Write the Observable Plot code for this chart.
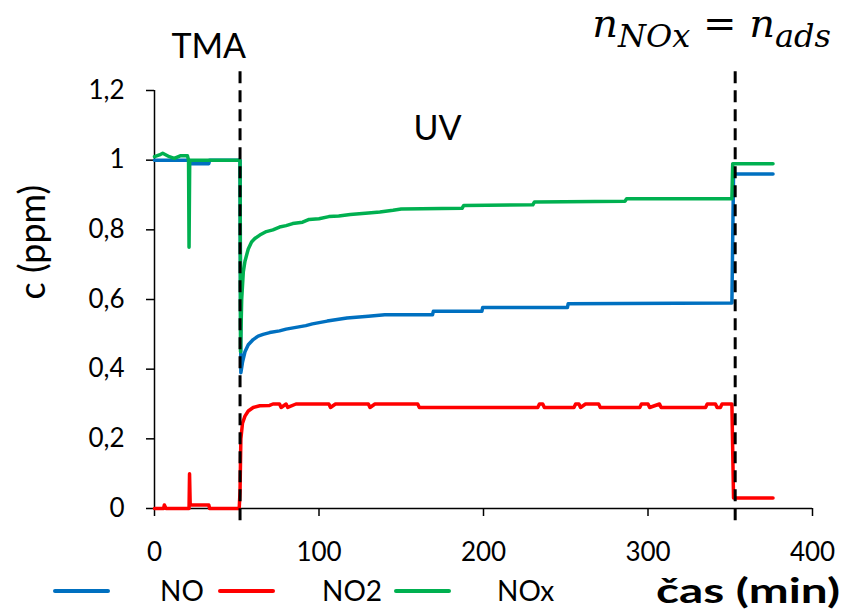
<!DOCTYPE html>
<html><head><meta charset="utf-8">
<script src="https://cdn.jsdelivr.net/npm/d3@7"></script>
<script src="https://cdn.jsdelivr.net/npm/@observablehq/plot@0.6"></script>
<style>body{margin:0;background:#fff;} svg{display:block}</style>
</head><body><div id="chart"></div>
<script>
const seriesNames = ["NO", "NO2", "NOx"];
const seriesColors = ["#0070C0", "#FF0000", "#00B050"];

const noTime  = [0, 21, 21.5, 33, 33.5, 52, 52.5, 53.5, 55, 57, 60, 63, 66, 70, 76, 80, 86, 92, 96, 105, 117, 130, 140, 169, 169.5, 199, 199.5, 251, 251.5, 351, 352, 376];
const noValue = [1.0, 1.0, 0.99, 0.99, 1.0, 1.0, 0.39, 0.42, 0.45, 0.47, 0.485, 0.495, 0.50, 0.505, 0.51, 0.515, 0.52, 0.525, 0.53, 0.538, 0.547, 0.552, 0.556, 0.556, 0.566, 0.566, 0.577, 0.577, 0.588, 0.59, 0.96, 0.96];

const no2Time  = [0, 5.5, 6, 7, 21, 21.3, 21.7, 33, 33.5, 51.5, 52, 52.5, 53.5, 55, 57, 60, 64, 70, 72, 76, 77, 80, 81, 86, 87, 106, 107, 110, 111, 130, 131, 134, 135, 160, 161, 233, 234, 236, 237, 255, 256, 258, 259, 262, 263, 270, 271, 295, 296, 300, 301, 307, 308, 335, 336, 341, 342, 344, 345, 351, 352, 376];
const no2Value = [0, 0, 0.01, 0, 0, 0.1, 0.01, 0.01, 0, 0, 0.05, 0.2, 0.245, 0.265, 0.28, 0.29, 0.295, 0.296, 0.3, 0.3, 0.29, 0.3, 0.29, 0.3, 0.3, 0.3, 0.29, 0.3, 0.3, 0.3, 0.29, 0.3, 0.3, 0.3, 0.29, 0.29, 0.3, 0.3, 0.29, 0.29, 0.3, 0.3, 0.29, 0.3, 0.3, 0.3, 0.29, 0.29, 0.3, 0.3, 0.29, 0.3, 0.29, 0.29, 0.3, 0.3, 0.29, 0.29, 0.3, 0.3, 0.03, 0.03];

const noxTime  = [0, 3, 5, 9, 12, 16, 20, 20.7, 21, 21.4, 52, 52.3, 53, 54, 55, 57, 59, 61, 64, 68, 72, 76, 80, 84, 90, 94, 100, 106, 112, 119, 130, 137, 145, 150, 187, 188, 230, 231, 286, 287, 351, 351.5, 376];
const noxValue = [1.01, 1.015, 1.02, 1.01, 1.005, 1.013, 1.013, 1.0, 0.75, 1.0, 1.0, 0.45, 0.6, 0.68, 0.71, 0.745, 0.765, 0.775, 0.785, 0.795, 0.80, 0.808, 0.812, 0.818, 0.822, 0.83, 0.832, 0.838, 0.84, 0.844, 0.848, 0.851, 0.856, 0.86, 0.862, 0.87, 0.872, 0.88, 0.882, 0.889, 0.889, 0.99, 0.99];

const xTicks = [0, 100, 200, 300, 400];
const yTicks = [0, 0.2, 0.4, 0.6, 0.8, 1, 1.2];
const eventTimes = [52, 353];
const notes = [{t: 33, c: 1.325, label: "TMA"}, {t: 172, c: 1.09, label: "UV"}];

const rows = [];
[[noTime, noValue], [no2Time, no2Value], [noxTime, noxValue]].forEach(([ts, vs], i) => {
  ts.forEach((t, j) => rows.push({series: seriesNames[i], t, c: vs[j]}));
});

const fmt = d => String(d).replace(".", ",");
const font = "Lato, 'Open Sans', sans-serif";

const plot = Plot.plot({
  width: 844, height: 614,
  marginLeft: 154, marginRight: 32, marginTop: 90, marginBottom: 106,
  style: {fontFamily: font, color: "#000", background: "#fff", overflow: "visible"},
  x: {domain: [0, 400]},
  y: {domain: [0, 1.2]},
  color: {domain: seriesNames, range: seriesColors},
  marks: [
    Plot.axisX({ticks: xTicks, tickSize: 8, tickPadding: 26, fontSize: 26, tickFormat: fmt, label: null, strokeWidth: 1.5}),
    Plot.axisY({ticks: yTicks, tickSize: 8, tickPadding: 22, fontSize: 26, tickFormat: fmt, label: null, strokeWidth: 1.5}),
    Plot.ruleX([0], {stroke: "#000", strokeWidth: 1.5}),
    Plot.ruleY([0], {stroke: "#000", strokeWidth: 1.5}),
    Plot.line(rows, {x: "t", y: "c", z: "series", stroke: "series", strokeWidth: 3.5, strokeLinejoin: "round", strokeLinecap: "round"}),
    Plot.ruleX(eventTimes, {x: d => d, y1: -0.035, y2: 1.27, stroke: "#000", strokeWidth: 3, strokeDasharray: "12,7"}),
    Plot.text(notes, {x: "t", y: "c", text: "label", fontSize: 34, fill: "#000"}),
    Plot.text(["c (ppm)"], {frameAnchor: "left", dx: -121, rotate: -90, fontSize: 36, fill: "#000"})
  ]
});

const svg = d3.select(plot);
const sx = plot.scale("x"), sy = plot.scale("y");
// formula annotation
const f = svg.append("text")
  .attr("x", sx.apply(339)).attr("y", sy.apply(1.352))
  .attr("text-anchor", "middle")
  .style("font-family", "'DejaVu Serif', serif").style("font-style", "italic")
  .style("font-size", "40px").attr("fill", "#000");
f.append("tspan").text("n");
f.append("tspan").attr("dy", 10).style("font-size", "32px").text("NOx");
f.append("tspan").attr("dy", -10).text(" = n");
f.append("tspan").attr("dy", 10).style("font-size", "32px").text("ads");

// x-axis title
svg.append("text")
  .attr("x", 656).attr("y", 603)
  .attr("text-anchor", "start")
  .attr("textLength", 184).attr("lengthAdjust", "spacingAndGlyphs")
  .style("font-family", font).style("font-size", "34px").style("font-weight", "bold")
  .attr("fill", "#000").text("čas (min)");

// legend
const legendLineX = [55, 220, 396];
const legendTextX = [160, 322, 497];
const legendY = 591;
seriesNames.forEach((name, i) => {
  svg.append("line").attr("x1", legendLineX[i]).attr("x2", legendLineX[i] + 53)
    .attr("y1", legendY).attr("y2", legendY)
    .attr("stroke", seriesColors[i]).attr("stroke-width", 4).attr("stroke-linecap", "round");
  svg.append("text").attr("x", legendTextX[i]).attr("y", legendY + 10)
    .attr("text-anchor", "start")
    .style("font-family", font).style("font-size", "28px").attr("fill", "#000").text(name);
});

document.getElementById("chart").appendChild(plot);
</script>
</body></html>
